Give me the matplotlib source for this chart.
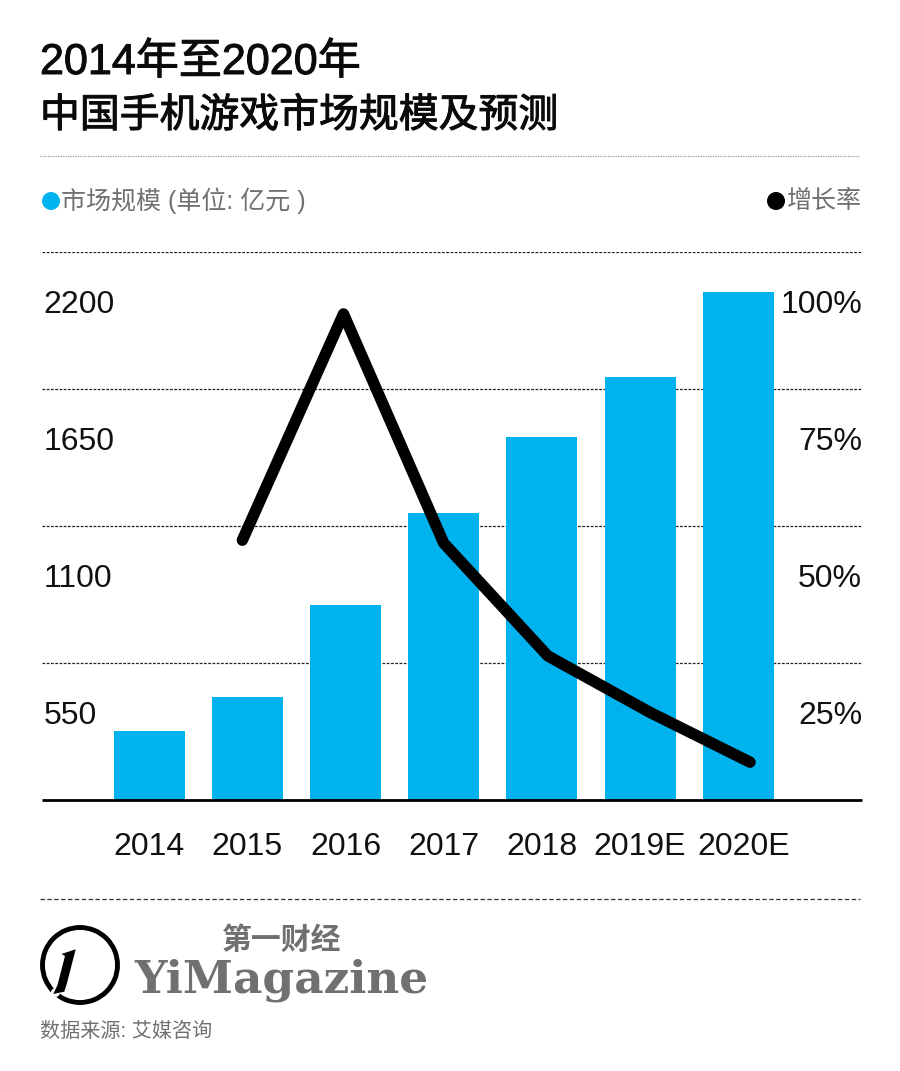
import matplotlib
matplotlib.use("Agg")
import matplotlib.pyplot as plt
import matplotlib.patheffects as pe
from matplotlib.patches import Arc, Polygon, Circle
from matplotlib.transforms import ScaledTranslation

W, H = 900, 1071
FONT = ["Liberation Sans", "Noto Sans CJK SC", "DejaVu Sans"]
plt.rcParams["font.family"] = FONT

years = ["2014", "2015", "2016", "2017", "2018", "2019E", "2020E"]
market_size = [277, 413, 783, 1152, 1457, 1698, 2040]

growth_pos = [0.95, 1.98, 3.0, 4.06, 5.1, 6.12]
growth = [47.4, 88.7, 46.9, 26.3, 16.0, 6.9]

size_ticks = [550, 1100, 1650, 2200]
growth_ticks = [25, 50, 75, 100]

BLUE = "#00b2ee"
GREY = "#707070"

fig = plt.figure(figsize=(W / 100, H / 100), dpi=100, facecolor="white")

# main axes, pixel box
ax = fig.add_axes([42 / W, 1 - 800 / H, 820 / W, 548 / H])
ax.set_xlim(-1.09, 7.26)
ax.set_ylim(0, 2200)
ax.bar(range(len(years)), market_size, width=0.723, color=BLUE, zorder=2)

for v in size_ticks:
    ax.axhline(v, color="#222222", lw=0.9, ls=(0, (2.2, 1.2)), zorder=1)

ax.set_yticks([])
ax.set_xticks(range(len(years)))
ax.set_xticklabels(years, fontsize=23, color="#111111")
ax.tick_params(axis="x", length=0, pad=23)
# last label sits a little right of its bar in the original
last = ax.get_xticklabels()[-1]
last.set_transform(last.get_transform() + ScaledTranslation(5 / 100, 0, fig.dpi_scale_trans))
for s in ["top", "left", "right"]:
    ax.spines[s].set_visible(False)
ax.spines["bottom"].set_linewidth(2)
ax.spines["bottom"].set_color("black")
ax.spines["bottom"].set_capstyle("butt")

for v in size_ticks:
    ax.annotate(str(v), (0, v), xycoords=ax.get_yaxis_transform(), xytext=(1, -38.5), textcoords="offset points",
                fontsize=23, color="#111111", ha="left", va="center")

ax2 = ax.twinx()
ax2.set_ylim(0, 100)
ax2.plot(growth_pos, growth, color="black", lw=8.2, solid_capstyle="round", solid_joinstyle="round", zorder=5)
ax2.set_yticks([])
for s in ax2.spines.values():
    s.set_visible(False)

for v in growth_ticks:
    ax2.annotate(f"{v}%", (1, v), xycoords=ax2.get_yaxis_transform(), xytext=(0, -38.5), textcoords="offset points",
                 fontsize=23, color="#111111", ha="right", va="center")

# overlay in pixel coords for header and footer
ov = fig.add_axes([0, 0, 1, 1], zorder=10)
ov.set_xlim(0, W)
ov.set_ylim(H, 0)
ov.axis("off")

heavier = [pe.withStroke(linewidth=0.7, foreground="#0a0a0a")]
ov.text(40, 63, "2014年至2020年", fontsize=31, color="#0a0a0a", va="center", path_effects=heavier)
ov.text(40, 116, "中国手机游戏市场规模及预测", fontsize=28.7, color="#0a0a0a", va="center", path_effects=heavier)
ov.plot([40, 860], [156, 156], color="#999999", lw=0.9, ls=(0, (1, 1)))

ov.add_patch(Circle((51, 201), 9, color=BLUE, lw=0))
ov.text(61, 201, "市场规模 (单位: 亿元 )", fontsize=18, color=GREY, va="center")
ov.add_patch(Circle((776, 201), 9, color="black", lw=0))
ov.text(862, 201, "增长率", fontsize=18, color=GREY, va="center", ha="right")

ov.plot([40, 860], [899, 899], color="#333333", lw=0.9, ls=(0, (3.5, 2)))

# logo
ov.add_patch(Arc((80, 965), 75, 75, theta1=0, theta2=360, color="black", lw=3.5))
ov.add_patch(Circle((55.5, 992.5), 4.5, color="white", lw=0, zorder=3))
ov.add_patch(Polygon([(75.7, 949.3), (61.5, 954), (65, 956), (57.5, 985), (53.3, 994), (64.3, 991.7), (67, 983)],
                     closed=True, color="black", lw=0, zorder=4))
ov.text(282, 941, "第一财经", fontsize=21.5, fontweight="bold", color=GREY, ha="center", va="center")
ov.text(134, 992, "YiMagazine", fontsize=32.7, family="DejaVu Serif", fontweight="bold", color=GREY, va="baseline")
ov.text(40, 1031, "数据来源: 艾媒咨询", fontsize=14.5, color=GREY, va="center")

fig.savefig("out.png", dpi=100)
